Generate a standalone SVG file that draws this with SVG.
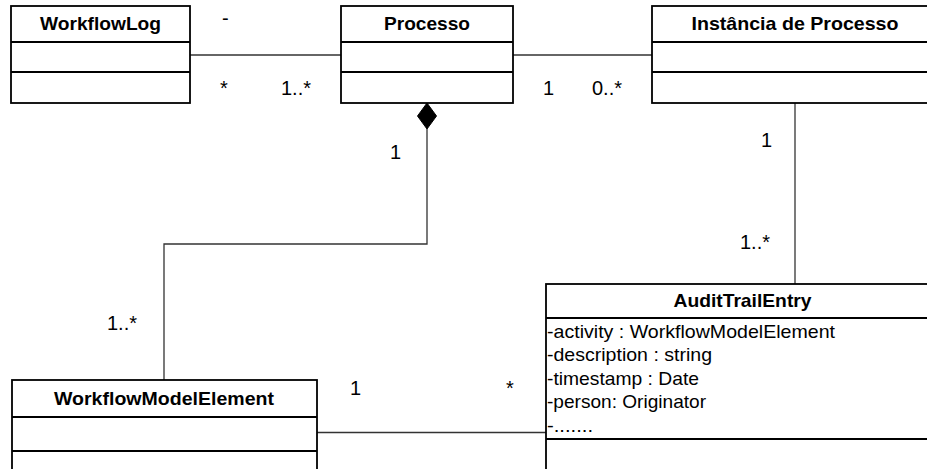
<svg xmlns="http://www.w3.org/2000/svg" width="927" height="469" viewBox="0 0 927 469">
<style>
.box{fill:#fff;stroke:#000;stroke-width:1.8}
.div{stroke:#000;stroke-width:1.8}
.conn{fill:none;stroke:#333;stroke-width:1.3}
.title{font-family:"Liberation Sans",Arial,sans-serif;font-size:18.5px;font-weight:bold;text-anchor:middle;fill:#000}
.attr{font-family:"Liberation Sans",Arial,sans-serif;font-size:19px;fill:#000}
.lbl{font-family:"Liberation Sans",Arial,sans-serif;font-size:20px;fill:#000}
</style>
<rect width="927" height="469" fill="#fff"/>
<g id="connectors">
<path class="conn" d="M190,55 H341"/>
<path class="conn" d="M513,55 H652"/>
<path class="conn" d="M795,103 V284"/>
<path class="conn" d="M317,432.5 H546"/>
<path class="conn" d="M427,129 V244 H164 V380"/>
<polygon points="427,103 436.5,116 427,129 417.5,116" fill="#000" stroke="#000" stroke-width="1"/>
<text class="lbl" x="222" y="25">-</text>
<text class="lbl" x="220" y="95">*</text>
<text class="lbl" x="281" y="95">1..*</text>
<text class="lbl" x="543" y="95">1</text>
<text class="lbl" x="592" y="95">0..*</text>
<text class="lbl" x="390" y="159">1</text>
<text class="lbl" x="761" y="147">1</text>
<text class="lbl" x="740" y="249">1..*</text>
<text class="lbl" x="107" y="330">1..*</text>
<text class="lbl" x="350" y="395">1</text>
<text class="lbl" x="506" y="395">*</text>
</g>
<g id="WorkflowLog">
<rect class="box" x="11" y="6" width="179" height="97"/>
<line class="div" x1="11" y1="42" x2="190" y2="42"/>
<line class="div" x1="11" y1="72" x2="190" y2="72"/>
<text class="title" x="100.5" y="29.5" textLength="121" lengthAdjust="spacingAndGlyphs">WorkflowLog</text>
</g>
<g id="Processo">
<rect class="box" x="341" y="6" width="172" height="97"/>
<line class="div" x1="341" y1="42" x2="513" y2="42"/>
<line class="div" x1="341" y1="72" x2="513" y2="72"/>
<text class="title" x="427" y="29.5" textLength="86" lengthAdjust="spacingAndGlyphs">Processo</text>
</g>
<g id="InstanciaDeProcesso">
<rect class="box" x="652" y="6" width="287" height="97"/>
<line class="div" x1="652" y1="42" x2="939" y2="42"/>
<line class="div" x1="652" y1="72" x2="939" y2="72"/>
<text class="title" x="795" y="29.5" textLength="207" lengthAdjust="spacingAndGlyphs">Instância de Processo</text>
</g>
<g id="WorkflowModelElement">
<rect class="box" x="12" y="380" width="305" height="100"/>
<line class="div" x1="12" y1="417" x2="317" y2="417"/>
<line class="div" x1="12" y1="451" x2="317" y2="451"/>
<text class="title" x="164" y="405" textLength="220" lengthAdjust="spacingAndGlyphs">WorkflowModelElement</text>
</g>
<g id="AuditTrailEntry">
<rect class="box" x="546" y="284" width="393" height="196"/>
<line class="div" x1="546" y1="318" x2="939" y2="318"/>
<line class="div" x1="546" y1="439" x2="939" y2="439"/>
<text class="title" x="742.5" y="307" textLength="138" lengthAdjust="spacingAndGlyphs">AuditTrailEntry</text>
<text class="attr" x="547" y="337.5" textLength="288" lengthAdjust="spacingAndGlyphs">-activity : WorkflowModelElement</text>
<text class="attr" x="547" y="361" textLength="165" lengthAdjust="spacingAndGlyphs">-description : string</text>
<text class="attr" x="547" y="384.5" textLength="152" lengthAdjust="spacingAndGlyphs">-timestamp : Date</text>
<text class="attr" x="547" y="408" textLength="159" lengthAdjust="spacingAndGlyphs">-person: Originator</text>
<text class="attr" x="547" y="431.5" textLength="46" lengthAdjust="spacingAndGlyphs">-.......</text>
</g>
</svg>
